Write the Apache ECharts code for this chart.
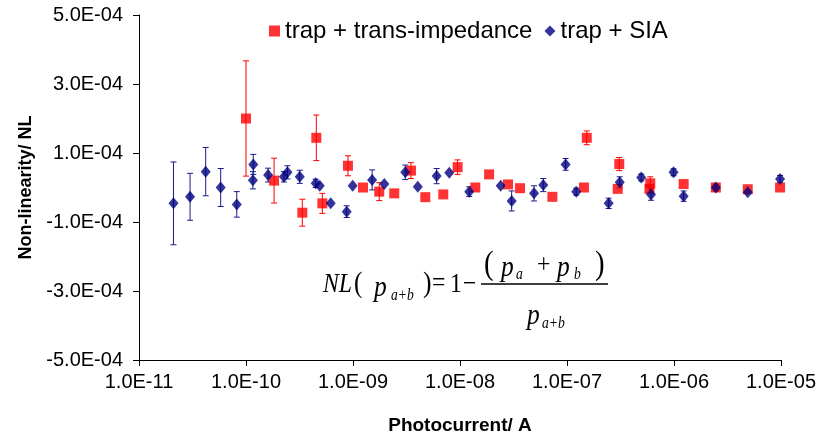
<!DOCTYPE html>
<html>
<head>
<meta charset="utf-8">
<script src="https://cdn.jsdelivr.net/npm/echarts@6/dist/echarts.min.js"></script>
<style>
  html, body { margin: 0; padding: 0; background: #fff; }
  #main { width: 830px; height: 438px; }
</style>
</head>
<body>
<div id="main"></div>
<script>
// trap + trans-impedance (red squares)
var redX   = [1.0e-10, 1.83e-10, 3.36e-10, 4.54e-10, 5.17e-10, 8.97e-10, 1.24e-9, 1.76e-9, 2.43e-9, 3.48e-9,
              4.74e-9, 6.98e-9, 9.5e-9, 1.39e-8, 1.87e-8, 2.81e-8, 3.64e-8, 7.3e-8, 1.44e-7, 1.53e-7,
              2.98e-7, 3.08e-7, 5.9e-7, 6.0e-7, 1.23e-6, 2.46e-6, 4.89e-6, 9.8e-6];
var redY   = [2.0e-4, 0.20e-4, -0.73e-4, 1.44e-4, -0.46e-4, 0.63e-4, 0.0, -0.12e-4, -0.17e-4, 0.49e-4,
              -0.28e-4, -0.20e-4, 0.59e-4, 0.0, 0.38e-4, 0.09e-4, -0.02e-4, -0.27e-4, 0.0, 1.44e-4,
              -0.04e-4, 0.68e-4, -0.04e-4, 0.12e-4, 0.10e-4, 0.0, -0.05e-4, 0.0];
var redErr = [1.67e-4, 0.65e-4, 0.39e-4, 0.66e-4, 0.29e-4, 0.29e-4, 0, 0.26e-4, 0, 0.23e-4,
              0, 0, 0.21e-4, 0, 0, 0, 0, 0, 0, 0.2e-4,
              0, 0.19e-4, 0.1e-4, 0.19e-4, 0, 0.1e-4, 0, 0];

// trap + SIA (blue diamonds)
var blueX   = [2.1e-11, 3.0e-11, 4.2e-11, 5.8e-11, 8.2e-11, 1.17e-10, 1.16e-10, 1.61e-10, 2.26e-10, 2.44e-10,
               3.18e-10, 4.48e-10, 4.89e-10, 6.19e-10, 8.73e-10, 9.93e-10, 1.51e-9, 1.96e-9, 3.08e-9, 4.03e-9,
               6.05e-9, 7.94e-9, 1.22e-8, 2.4e-8, 3.04e-8, 4.92e-8, 6.0e-8, 9.7e-8, 1.22e-7, 2.45e-7,
               3.11e-7, 4.94e-7, 6.1e-7, 9.9e-7, 1.23e-6, 2.46e-6, 4.89e-6, 9.8e-6];
var blueY   = [-0.46e-4, -0.27e-4, 0.46e-4, 0.0, -0.49e-4, 0.67e-4, 0.21e-4, 0.36e-4, 0.31e-4, 0.44e-4,
               0.31e-4, 0.12e-4, 0.05e-4, -0.46e-4, -0.70e-4, 0.05e-4, 0.22e-4, 0.10e-4, 0.44e-4, 0.02e-4,
               0.33e-4, 0.43e-4, -0.12e-4, 0.05e-4, -0.39e-4, -0.17e-4, 0.07e-4, 0.67e-4, -0.12e-4, -0.46e-4,
               0.15e-4, 0.29e-4, -0.2e-4, 0.44e-4, -0.25e-4, 0.0, -0.14e-4, 0.25e-4];
var blueErr = [1.2e-4, 0.68e-4, 0.70e-4, 0.55e-4, 0.37e-4, 0.29e-4, 0.25e-4, 0.2e-4, 0.15e-4, 0.19e-4,
               0.19e-4, 0.12e-4, 0, 0, 0.17e-4, 0, 0.29e-4, 0, 0.21e-4, 0,
               0.22e-4, 0, 0.14e-4, 0, 0.29e-4, 0.22e-4, 0.19e-4, 0.17e-4, 0.1e-4, 0.15e-4,
               0.16e-4, 0.1e-4, 0.17e-4, 0.1e-4, 0.15e-4, 0, 0, 0.1e-4];

var yTicks = [-5e-4, -3e-4, -1e-4, 1e-4, 3e-4, 5e-4];

var redName = 'trap + trans-impedance';
var blueName = 'trap + SIA';

function sci(v) {
  var s = Number(v).toExponential(1).split('e');
  var e = s[1];
  var sign = e.charAt(0) === '-' ? '-' : '+';
  var d = e.replace('-', '').replace('+', '');
  if (d.length < 2) d = '0' + d;
  return s[0] + 'E' + sign + d;
}

function errSeries(name, xs, ys, es, color) {
  var data = [];
  for (var i = 0; i < xs.length; i++) {
    if (es[i] > 0) data.push([xs[i], ys[i], es[i]]);
  }
  return {
    name: name,
    type: 'custom',
    data: data,
    encode: { x: 0, y: 1 },
    silent: true,
    renderItem: function (params, api) {
      var x = api.value(0), y = api.value(1), e = api.value(2);
      var top = api.coord([x, y + e]);
      var bot = api.coord([x, y - e]);
      var w = 3;
      var st = { stroke: color, lineWidth: 1 };
      return {
        type: 'group',
        children: [
          { type: 'line', shape: { x1: top[0], y1: top[1], x2: bot[0], y2: bot[1] }, style: st },
          { type: 'line', shape: { x1: top[0] - w, y1: top[1], x2: top[0] + w, y2: top[1] }, style: st },
          { type: 'line', shape: { x1: bot[0] - w, y1: bot[1], x2: bot[0] + w, y2: bot[1] }, style: st }
        ]
      };
    }
  };
}

function pts(xs, ys) {
  return xs.map(function (x, i) { return [x, ys[i]]; });
}

// formula pieces, serif, a bit condensed like the embedded equation
var serif = 'Liberation Serif';
function tx(text, x, y, size, italic) {
  return {
    type: 'text', x: x, y: y, scaleX: 0.85, silent: true,
    style: {
      text: text, fill: '#000',
      font: (italic ? 'italic ' : '') + size + 'px "' + serif + '"',
      textAlign: 'left', textVerticalAlign: 'middle'
    }
  };
}

var chart = echarts.init(document.getElementById('main'));
var option = {
  animation: false,
  textStyle: { fontFamily: 'Liberation Sans' },
  grid: { left: 139, right: 49, top: 15, bottom: 78, containLabel: false, outerBoundsMode: 'none' },
  legend: {
    top: 14, left: 264,
    itemGap: 12, itemWidth: 11, itemHeight: 11,
    textStyle: { fontSize: 24, color: '#000', fontFamily: 'Liberation Sans' },
    data: [
      { name: redName, icon: 'rect' },
      { name: blueName, icon: 'diamond' }
    ]
  },
  xAxis: {
    type: 'log', logBase: 10, min: 1e-11, max: 1e-5,
    name: 'Photocurrent/ A', nameLocation: 'middle', nameGap: 56,
    nameTextStyle: { fontSize: 19, fontWeight: 'bold', color: '#000' },
    axisLine: { onZero: false, lineStyle: { color: '#000', width: 1 } },
    axisTick: { show: true, inside: false, length: 6, lineStyle: { color: '#000' } },
    minorTick: { show: false },
    splitLine: { show: false },
    axisLabel: { fontSize: 20, color: '#000', margin: 12, formatter: sci }
  },
  yAxis: {
    type: 'value', min: -5e-4, max: 5e-4,
    name: 'Non-linearity/ NL', nameLocation: 'middle', nameGap: 92,
    nameTextStyle: { fontSize: 18, fontWeight: 'bold', color: '#000' },
    axisLine: { show: true, lineStyle: { color: '#000', width: 1 } },
    axisTick: { show: true, length: 6, lineStyle: { color: '#000' }, customValues: yTicks },
    splitLine: { show: false },
    axisLabel: { fontSize: 20, color: '#000', margin: 16, customValues: yTicks, formatter: sci }
  },
  graphic: [
    tx('NL', 323, 285, 28, true),
    tx('(', 354, 284, 30, false),
    tx('p', 374, 288, 30, true),
    tx('a+b', 391, 296, 16, true),
    tx(')', 423, 284, 30, false),
    tx('=', 432, 284, 28, false),
    tx('1', 450, 285, 28, false),
    tx('\u2212', 463, 285, 28, false),
    { type: 'line', silent: true, shape: { x1: 481, y1: 284, x2: 608, y2: 284 }, style: { stroke: '#000', lineWidth: 1.5 } },
    tx('(', 484, 265, 34, false),
    tx('p', 501, 268, 30, true),
    tx('a', 516, 275, 16, true),
    tx('+', 537, 266, 28, false),
    tx('p', 557, 268, 30, true),
    tx('b', 574, 275, 16, true),
    tx(')', 595, 265, 34, false),
    tx('p', 527, 316, 30, true),
    tx('a+b', 542, 324, 16, true)
  ],
  series: [
    errSeries('redErr', redX, redY, redErr, '#ff0000'),
    {
      name: redName, type: 'scatter', symbol: 'rect', symbolSize: 10,
      itemStyle: { color: '#ff0000' },
      data: pts(redX, redY)
    },
    errSeries('blueErr', blueX, blueY, blueErr, '#1a1a8c'),
    {
      name: blueName, type: 'scatter', symbol: 'diamond', symbolSize: [10, 12],
      itemStyle: { color: '#000080' },
      data: pts(blueX, blueY)
    }
  ]
};
chart.setOption(option);
</script>
</body>
</html>
